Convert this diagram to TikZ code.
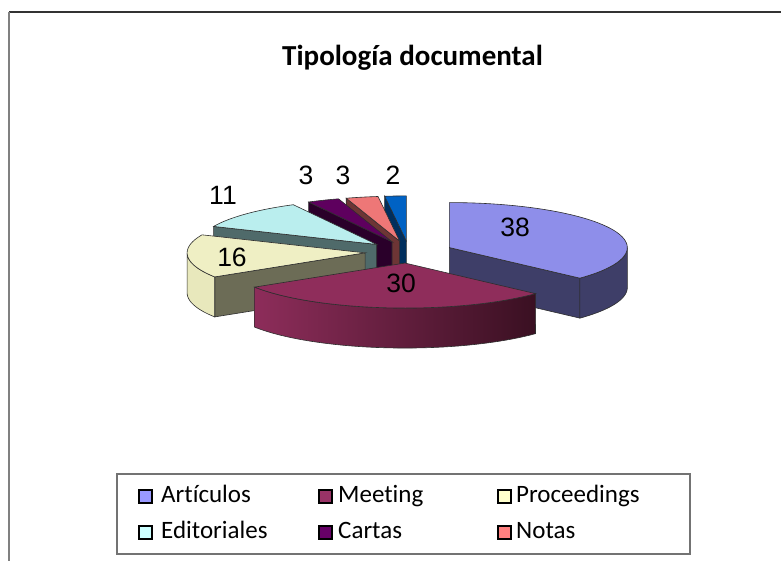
\documentclass[tikz,border=0pt]{standalone}
\usepackage{fontspec}
\setmainfont{Carlito}[Ligatures=NoCommon]
\newfontfamily\numfont{Liberation Sans}
\usetikzlibrary{positioning}

\definecolor{artTop}{HTML}{8E8EEA}
\definecolor{artSide}{HTML}{3E3E68}
\definecolor{meetTop}{HTML}{8F2D5B}
\definecolor{meetSideA}{HTML}{8D2D5A}
\definecolor{meetSideB}{HTML}{3A1022}
\definecolor{procTop}{HTML}{EFEFC4}
\definecolor{procRim}{HTML}{E8E8BC}
\definecolor{procSide}{HTML}{6C6C56}
\definecolor{ediTop}{HTML}{BAEEEE}
\definecolor{ediSide}{HTML}{4F6A6A}
\definecolor{carTop}{HTML}{5E005E}
\definecolor{carSide}{HTML}{2A002A}
\definecolor{notTop}{HTML}{EE7777}
\definecolor{notSide}{HTML}{6D3535}
\definecolor{othTop}{HTML}{0062C4}
\definecolor{othSide}{HTML}{002F5E}
\definecolor{artLeg}{HTML}{9999FF}
\definecolor{meetLeg}{HTML}{993366}
\definecolor{procLeg}{HTML}{FFFFCC}
\definecolor{ediLeg}{HTML}{CCFFFF}
\definecolor{carLeg}{HTML}{660066}
\definecolor{notLeg}{HTML}{FF8080}
\definecolor{rimline}{HTML}{2E2E2E}

% apex of an exploded slice (start, end angle)
\newcommand{\setapex}[2]{%
  \pgfmathsetmacro\ax{409+44*sin((#1+#2)/2)}%
  \pgfmathsetmacro\ay{252-11.1*cos((#1+#2)/2)}}
% cut face along one radius
\newcommand{\cutface}[2]{%
  \fill[#2, draw=rimline, line width=.6] (\ax,\ay) -- ({\ax+178*sin(#1)},{\ay-45*cos(#1)})
    -- ({\ax+178*sin(#1)},{\ay+40-45*cos(#1)}) -- (\ax,\ay+40) -- cycle;}
% outer curved face
\newcommand{\rimface}[3]{%
  \path[#3, draw=rimline, line width=.6]
    plot[domain=#1:#2, samples=40] ({\ax+178*sin(\x)},{\ay-45*cos(\x)})
    -- plot[domain=#2:#1, samples=40] ({\ax+178*sin(\x)},{\ay+40-45*cos(\x)}) -- cycle;}
% top face
\newcommand{\topface}[3]{%
  \fill[#3, draw=rimline, line width=.6] (\ax,\ay)
    -- plot[domain=#1:#2, samples=50] ({\ax+178*sin(\x)},{\ay-45*cos(\x)}) -- cycle;}

\begin{document}
\begin{tikzpicture}[x=1pt,y=-1pt,
  num/.style={inner sep=0pt, font=\numfont\fontsize{26.5}{30}\selectfont},
  legsq/.style={draw=black, line width=2pt, minimum size=13pt, inner sep=0pt},
  legtxt/.style={anchor=base west, inner sep=0pt, font=\fontsize{25}{30}\selectfont}]

\useasboundingbox (0,0) rectangle (781,561);

% frame
\draw[black!80, line width=1.5pt] (9,12) -- (781,12);
\draw[black!50, line width=2pt] (9,12) -- (9,561);

\node[anchor=base, inner sep=0pt, font=\bfseries\fontsize{29}{34}\selectfont] (title) at (412.5,66) {Tipología documental};

% slices, back to front
\setapex{353.010}{360}
\cutface{353.010}{othSide}
\topface{353.010}{360}{othTop}

\setapex{342.524}{353.010}
\cutface{342.524}{notSide}
\topface{342.524}{353.010}{notTop}

\setapex{332.039}{342.524}
\cutface{332.039}{carSide}
\topface{332.039}{342.524}{carTop}

\setapex{293.592}{332.039}
\cutface{293.592}{ediSide}
\topface{293.592}{332.039}{ediTop}

\setapex{237.670}{293.592}
\cutface{237.670}{procSide}
\rimface{237.670}{270}{fill=procRim}
\topface{237.670}{293.592}{procTop}

\setapex{0}{132.816}
\cutface{132.816}{artSide}
\rimface{90}{132.816}{fill=artSide}
\topface{0}{132.816}{artTop}

\setapex{132.816}{237.670}
\rimface{132.816}{237.670}{left color=meetSideA, right color=meetSideB}
\topface{132.816}{237.670}{meetTop}

% values
\node[num] (v38) at (515,227) {38};
\node[num] (v30) at (401,283) {30};
\node[num] (v16) at (232,257) {16};
\node[num] (v11) at (223,195) {11};
\node[num] (v3a) at (306,175) {3};
\node[num] (v3b) at (343,175) {3};
\node[num] (v2) at (393,175) {2};

% legend
\draw[black!55, line width=1.5pt] (117,474) rectangle (690,554);
\node[legsq, fill=artLeg] (sqArt) at (145.5,496) {};
\node[legsq, fill=meetLeg] (sqMeet) at (325.5,496) {};
\node[legsq, fill=procLeg] (sqProc) at (504.5,496) {};
\node[legsq, fill=ediLeg] (sqEdi) at (145.5,532) {};
\node[legsq, fill=carLeg] (sqCar) at (325.5,532) {};
\node[legsq, fill=notLeg] (sqNot) at (504.5,532) {};
\node[legtxt] (txArt) at (161,502) {Artículos};
\node[legtxt] (txMeet) at (338,502) {Meeting};
\node[legtxt] (txProc) at (516,502) {Proceedings};
\node[legtxt] (txEdi) at (161,538) {Editoriales};
\node[legtxt] (txCar) at (338,538) {Cartas};
\node[legtxt] (txNot) at (516,538) {Notas};

\end{tikzpicture}
\end{document}
